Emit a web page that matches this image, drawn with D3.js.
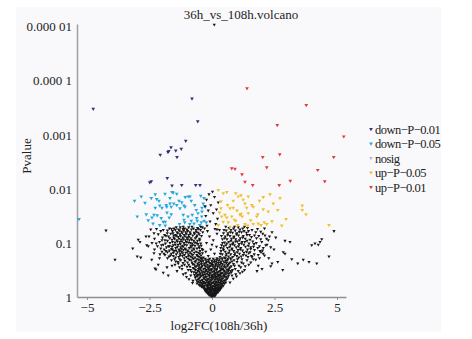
<!DOCTYPE html>
<html><head><meta charset="utf-8">
<script src="https://cdn.jsdelivr.net/npm/d3@7"></script>
<style>html,body{margin:0;padding:0;background:#fff;}svg{display:block;font-family:"Liberation Serif","Times New Roman",serif;}</style>
</head><body><svg id="c" width="472" height="339"></svg>
<script>
// ---- data: [log2FC, -log10(Pvalue)] ----
const title = "36h_vs_108h.volcano";
const xTicks = [-5, -2.5, 0, 2.5, 5];
const xTickLabels = ["\u22125", "\u22122.5", "0", "2.5", "5"];
const yTicks = [1, 0.1, 0.01, 0.001, 0.0001, 0.00001];
const yTickLabels = ["1", "0.1", "0.01", "0.001", "0.000 1", "0.000 01"];
const categories = ["down\u2212P\u22120.01", "down\u2212P\u22120.05", "nosig", "up\u2212P\u22120.05", "up\u2212P\u22120.01"];
const colors = ["#35357f", "#27a7dc", "#b8bcc8", "#efc22c", "#e23b3d"];
const pointColors = ["#35357f", "#27a7dc", "#161616", "#efc22c", "#e23b3d"];

const downP001 = [[-4.75,3.48],[-0.8,3.67],[-0.57,3.25],[-1.05,2.89],[-1.64,2.77],[-1.23,2.74],[-1.73,2.70],[-1.76,2.68],[-1.45,2.71],[-2.07,2.63],[-1.4,2.59],[-2.49,2.12],[-2.43,2.14],[-1.79,2.20],[-1.21,2.07],[-0.65,2.07],[-0.48,2.07],[-1.6,2.06]];

const downP005 = [[-5.32,1.44],[-2.83,1.86],[-2.43,1.83],[-2.27,1.90],[-1.88,1.91],[-1.6,1.94],[-1.41,1.91],[-1.07,1.85],[-0.88,1.86],[-0.45,1.87],[-0.32,1.83],
[-2.12,1.78],[-1.68,1.83],[-1.32,1.78],[-1.53,1.73],[-1.83,1.70],[-2.09,1.69],[-2.27,1.65],[-2.0,1.65],[-1.63,1.67],[-1.41,1.70],[-1.12,1.69],[-0.83,1.78],[-0.69,1.70],[-0.4,1.65],[-0.27,1.67],
[-2.99,1.49],[-2.63,1.53],[-2.32,1.52],[-2.19,1.51],[-2.4,1.47],[-1.8,1.56],[-1.63,1.53],[-1.71,1.47],[-2.03,1.46],[-1.15,1.52],[-0.96,1.49],[-0.79,1.52],[-0.63,1.61],[-0.56,1.55],[-0.4,1.58],
[-2.36,1.36],[-2.09,1.33],[-1.87,1.39],[-1.87,1.32],[-1.12,1.43],[-1.09,1.38],[-0.89,1.35],[-0.72,1.36],[-0.59,1.41],[-0.43,1.38],[-0.32,1.41],[-0.23,1.38],[-0.49,1.33],[-0.83,1.41],
[-2.68,1.74],[-1.95,1.39],[-1.08,1.67],[-0.41,1.49],[-0.35,1.73],[-2.21,1.81],[-1.55,1.93],[-0.95,1.86],[-0.61,1.46],[-1.81,1.67],[-1.68,1.73],[-1.21,1.75],[-1.28,1.64],[-3.1,1.78],[-2.55,1.42],[-1.3,1.35]];

const upP005 = [[0.25,1.98],[0.45,1.92],[0.59,1.94],[0.95,1.92],[1.05,1.86],[1.16,1.88],[1.45,1.86],[2.05,1.85],[2.32,1.90],[2.72,1.83],
[0.36,1.77],[0.85,1.78],[1.32,1.73],[1.59,1.70],[2.45,1.73],[0.36,1.64],[0.72,1.64],[0.85,1.65],[1.39,1.65],[1.65,1.67],[2.05,1.62],[2.63,1.61],[3.61,1.69],[3.61,1.61],[3.76,1.53],
[0.52,1.52],[0.59,1.47],[0.79,1.49],[1.12,1.52],[1.21,1.49],[1.16,1.54],[1.45,1.55],[1.83,1.53],[1.79,1.49],[2.96,1.44],[0.45,1.39],[0.65,1.38],[0.89,1.43],
[1.32,1.35],[1.43,1.32],[1.65,1.35],[1.85,1.36],[1.96,1.33],[2.09,1.38],[2.19,1.35],[2.79,1.32],[4.68,1.33],[1.03,1.33],[0.72,1.30],[0.25,1.33],[0.39,1.49],
[0.62,1.7],[1.0,1.6],[1.25,1.8],[1.9,1.78],[2.25,1.58],[0.3,1.56],[0.95,1.41],[1.55,1.42],[2.4,1.4]];

const upP001 = [[1.4,3.86],[3.77,3.55],[2.61,3.18],[5.27,2.97],[2.03,2.59],[2.71,2.64],[4.87,2.59],[2.19,2.40],[0.79,2.38],[0.92,2.37],[4.23,2.35],[1.2,2.27],[1.32,2.13],[1.63,2.07],[2.69,2.07],[3.13,2.15],[4.51,2.14]];

const nosig = [
[0.09,5.04],
[0.00,0.01],[-0.04,0.02],[0.05,0.02],[0.09,0.03],[-0.08,0.03],[0.02,0.04],[-0.12,0.04],[0.13,0.05],[-0.02,0.05],[0.07,0.06],[-0.16,0.06],[0.17,0.06],[-0.06,0.07],[0.11,0.07],[-0.2,0.08],[0.2,0.08],[0.03,0.08],[-0.1,0.09],[0.24,0.09],[-0.14,0.1],[0.06,0.1],[-0.24,0.1],[0.15,0.11],[-0.03,0.11],[0.27,0.11],[-0.18,0.12],[0.09,0.12],[-0.28,0.12],[0.21,0.13],[-0.07,0.13],[0.31,0.13],[-0.22,0.14],[0.01,0.14],[0.13,0.14],[-0.12,0.15],[0.25,0.15],[-0.3,0.15],[0.34,0.15],[0.04,0.15],[-0.17,0.15],
[-0.01,0.03],[0.12,0.02],[-0.09,0.05],[0.04,0.07],[-0.13,0.08],[0.16,0.09],[-0.05,0.1],[0.09,0.11],[-0.21,0.11],[0.19,0.12],[-0.11,0.13],[0.06,0.13],[0.26,0.14],[-0.26,0.14],[-0.04,0.16],[0.14,0.16],[-0.15,0.17],[0.23,0.18],[-0.31,0.18],[0.33,0.19],[0.02,0.19],[-0.06,0.2],[-0.37,0.2],[0.11,0.2],
[-0.35,0.17],[-0.26,0.16],[-0.09,0.17],[0.08,0.16],[0.18,0.17],[0.3,0.17],[0.39,0.18],[-0.42,0.19],[-0.19,0.19],[-0.01,0.18],[0.12,0.19],[0.24,0.2],[0.36,0.2],[0.45,0.21],[-0.48,0.21],[-0.31,0.21],[-0.13,0.21],[0.05,0.21],[0.17,0.22],[-0.23,0.22],
[-0.52,0.23],[-0.38,0.24],[-0.05,0.23],[0.1,0.24],[0.28,0.23],[0.42,0.24],[0.5,0.25],[-0.44,0.26],[-0.28,0.25],[-0.16,0.26],[0.0,0.26],[0.2,0.26],[0.33,0.27],[0.55,0.27],[-0.57,0.28],[-0.34,0.28],[-0.09,0.28],[0.07,0.29],[0.15,0.28],[0.4,0.29],[-0.2,0.3],[0.26,0.3],[0.48,0.3],[-0.47,0.3],[-0.11,0.24],[0.36,0.25],[-0.6,0.25],
[-0.43,0.22],[-0.18,0.23],[0.21,0.23],[0.37,0.22],[-0.02,0.25],[0.13,0.25],[-0.33,0.26],[0.28,0.26],[0.46,0.27],[-0.51,0.27],[-0.24,0.27],[0.04,0.27],[-0.13,0.29],[0.19,0.29],[0.35,0.3],[-0.39,0.3],[-0.07,0.31],[0.53,0.31],[-0.56,0.32],[-0.19,0.33],[0.16,0.33],[0.28,0.33],[0.4,0.34],[-0.33,0.35],[-0.01,0.35],[0.12,0.36],[-0.49,0.36],[0.58,0.37],[-0.25,0.37],[0.01,0.37],[0.23,0.38],[-0.11,0.39],[0.48,0.39],[-0.64,0.38],[0.33,0.4],[-0.44,0.4],
[-0.62,0.31],[-0.39,0.32],[-0.27,0.32],[-0.03,0.31],[0.11,0.32],[0.35,0.32],[0.58,0.33],[-0.53,0.34],[-0.14,0.34],[0.03,0.34],[0.22,0.34],[0.44,0.35],[0.62,0.35],[-0.67,0.36],[-0.31,0.36],[-0.08,0.36],[0.17,0.37],[0.31,0.36],[0.52,0.37],[-0.45,0.38],[-0.21,0.38],[0.06,0.38],[0.27,0.39],[0.39,0.38],[0.66,0.39],[-0.58,0.39],[-0.36,0.4],[-0.01,0.4],[0.13,0.4],[0.47,0.4],
[-0.7,0.41],[-0.49,0.42],[-0.26,0.42],[-0.12,0.41],[0.09,0.42],[0.21,0.42],[0.34,0.43],[0.56,0.42],[0.71,0.44],[-0.61,0.44],[-0.38,0.44],[-0.05,0.44],[0.15,0.45],[0.42,0.45],[0.6,0.46],[-0.73,0.46],[-0.51,0.47],[-0.29,0.46],[-0.17,0.47],[0.02,0.47],[0.27,0.47],[0.49,0.48],[0.74,0.48],[-0.42,0.49],[-0.08,0.49],[0.1,0.49],[0.36,0.5],[0.63,0.5],[-0.66,0.5],[-0.22,0.5],
[-0.57,0.41],[-0.33,0.41],[0.03,0.41],[0.28,0.41],[0.48,0.42],[-0.19,0.43],[0.12,0.43],[0.65,0.43],[-0.46,0.44],[0.37,0.44],[-0.66,0.45],[-0.1,0.45],[0.22,0.46],[0.53,0.46],[-0.35,0.47],[0.08,0.47],[-0.57,0.48],[-0.24,0.48],[0.32,0.48],[0.66,0.49],[-0.02,0.5],[0.18,0.5],[0.45,0.5],[-0.48,0.51],[-0.13,0.51],[0.59,0.51],[-0.71,0.52],[-0.28,0.53],[0.11,0.53],[0.36,0.53],[-0.52,0.55],[-0.19,0.55],[0.22,0.56],[0.49,0.56],[0.72,0.55],[-0.67,0.56],[-0.41,0.56],[0.01,0.57],[-0.11,0.57],[0.62,0.58],[-0.56,0.59],[-0.3,0.59],[0.31,0.6],[0.15,0.6],[-0.77,0.61],[-0.42,0.61],[-0.03,0.61],[0.41,0.61],[0.68,0.62],[-0.24,0.63],[0.25,0.63],[0.02,0.64],[-0.52,0.64],[0.52,0.64],[-0.68,0.65],[-0.13,0.66],[0.17,0.66],[0.36,0.66],[0.8,0.66],[-0.46,0.67],[0.56,0.67],[-0.83,0.68],[-0.24,0.68],[0.1,0.68],[-0.6,0.7],[-0.4,0.7],[0.3,0.7],[0.63,0.71],[-0.09,0.71],[-0.45,0.72],[0.2,0.72],
[-0.55,0.52],[-0.33,0.52],[-0.02,0.52],[0.19,0.52],[0.44,0.53],[0.68,0.53],[-0.76,0.54],[-0.45,0.54],[-0.13,0.54],[0.07,0.55],[0.3,0.55],[0.55,0.55],[-0.62,0.57],[-0.26,0.57],[0.13,0.57],[0.39,0.57],[0.77,0.57],[-0.38,0.58],[-0.06,0.58],[0.24,0.59],[0.5,0.59],[0.64,0.6],[-0.71,0.6],[-0.5,0.6],[-0.18,0.6],[0.04,0.6],
[-0.58,0.62],[-0.31,0.62],[-0.09,0.63],[0.16,0.62],[0.34,0.63],[0.58,0.63],[0.72,0.64],[-0.8,0.64],[-0.42,0.65],[-0.21,0.65],[0.09,0.65],[0.46,0.66],[-0.65,0.67],[-0.35,0.67],[-0.01,0.67],[0.27,0.67],[0.62,0.68],[-0.53,0.69],[-0.15,0.69],[0.19,0.69],[0.41,0.7],[0.75,0.7],[-0.74,0.71],[-0.27,0.71],[0.05,0.71],[0.53,0.72],
[-0.78,0.26],[-0.92,0.33],[-0.85,0.4],[-1.05,0.44],[-0.95,0.5],[-1.2,0.52],[-0.88,0.56],[-1.1,0.6],[-1.35,0.62],[-0.98,0.64],[-1.25,0.68],[-1.5,0.7],[-0.9,0.69],[-1.6,0.58],[-1.4,0.48],[-0.82,0.47],[-1.02,0.37],[-1.15,0.42],[-0.76,0.3],[-1.3,0.55],[-0.93,0.6],[-1.45,0.66],
[0.72,0.27],[0.85,0.34],[0.95,0.42],[0.82,0.5],[1.05,0.48],[1.15,0.55],[0.9,0.58],[1.25,0.62],[1.0,0.65],[1.4,0.68],[0.88,0.68],[1.55,0.64],[1.3,0.5],[0.98,0.38],[1.12,0.44],[0.8,0.4],[1.65,0.7],[1.2,0.7],
[0.78,0.46],[0.93,0.52],[1.08,0.58],[1.22,0.47],[0.86,0.61],[1.33,0.57],[1.47,0.6],[1.02,0.7],[1.18,0.64],[1.6,0.74],[1.75,0.69],[1.9,0.72],[2.1,0.77],[1.52,0.83],[1.83,0.91],[2.02,0.86],[1.66,0.93],[1.77,1.0],[1.99,1.02],[2.15,0.96],[1.87,1.13],[2.03,1.17],[1.7,1.14],[2.25,1.05],[2.4,1.2],[2.55,1.1],[2.35,0.92],[1.58,1.11],[1.46,1.22],[1.82,1.26],
[-0.86,0.5],[-1.0,0.56],[-1.16,0.63],[-1.3,0.7],[-1.08,0.67],[-1.48,0.6],[-1.62,0.68],[-1.78,0.72],[-1.92,0.8],[-2.05,0.9],[-2.18,0.94],[-1.98,1.1],[-2.15,1.16],[-2.3,1.08],[-2.22,1.26],[-1.95,1.24],[-1.62,1.26],[-2.4,1.0],[-2.52,1.12],[-1.88,1.05],[-2.02,0.96],[-1.84,0.85],[-1.7,0.94],[-1.58,0.88],[-1.53,1.14],[-1.79,1.18],[-2.3,0.88],[-1.2,0.58],[-1.36,0.65],[-0.95,0.71],
[-0.3,1.27],[0.3,1.24],[-0.8,1.3],[0.9,1.3],[1.3,1.3],[-1.15,1.3],[0.55,1.3],[-0.45,1.3],
[-0.35,0.73],[-0.52,0.74],[-0.68,0.73],[-0.85,0.75],[-1.02,0.74],[-1.18,0.76],[-1.33,0.74],[-1.55,0.76],[-1.72,0.75],[-0.44,0.77],[-0.61,0.78],[-0.77,0.78],[-0.94,0.79],[-1.1,0.78],[-1.27,0.8],[-1.43,0.79],[-1.63,0.8],[-1.88,0.78],[-0.38,0.81],[-0.55,0.82],[-0.71,0.82],[-0.88,0.83],[-1.05,0.82],[-1.21,0.84],[-1.38,0.83],[-1.52,0.85],[-0.48,0.85],[-0.8,0.86],[-0.97,0.86],[-1.14,0.87],[-1.32,0.88],[-1.7,0.86],[-2.0,0.84],
[-0.43,0.72],[-0.79,0.73],[-1.11,0.72],[-1.46,0.73],[-0.58,0.76],[-0.93,0.76],[-1.28,0.77],[-1.66,0.77],[-2.08,0.79],[-0.49,0.8],[-0.83,0.8],[-1.17,0.81],[-1.55,0.82],[-1.78,0.83],[-0.63,0.84],[-0.97,0.84],[-1.29,0.85],[-1.44,0.86],[-0.37,0.87],[-0.72,0.88],[-1.05,0.88],[-1.23,0.89],[-1.62,0.89],[-1.91,0.88],[-0.51,0.91],[-0.84,0.92],[-1.16,0.93],[-1.38,0.93],[-1.74,0.94],[-0.43,0.95],[-0.77,0.96],[-1.09,0.97],[-1.27,0.98],[-1.47,0.97],[-1.86,0.99],[-0.56,0.98],
[-0.4,0.89],[-0.6,0.9],[-0.74,0.9],[-0.91,0.91],[-1.08,0.9],[-1.25,0.92],[-1.45,0.91],[-1.6,0.93],[-1.82,0.92],[-0.52,0.94],[-0.68,0.95],[-0.85,0.95],[-1.01,0.96],[-1.18,0.95],[-1.36,0.97],[-1.55,0.96],[-1.95,0.97],[-0.45,0.99],[-0.63,1.0],[-0.79,0.99],[-0.95,1.01],[-1.12,1.0],[-1.29,1.02],[-1.48,1.01],[-1.68,1.0],[-0.58,1.04],[-0.73,1.04],[-0.9,1.05],[-1.06,1.05],[-1.24,1.06],[-1.41,1.05],[-1.6,1.06],[-1.78,1.04],[-2.1,1.02],
[-0.69,1.01],[-0.87,1.0],[-1.03,1.02],[-1.2,1.03],[-1.39,1.03],[-1.58,1.02],[-2.0,1.05],[-0.49,1.05],[-0.81,1.06],[-0.98,1.07],[-1.15,1.07],[-1.32,1.08],[-1.5,1.08],[-1.69,1.09],[-0.62,1.11],[-0.92,1.11],[-1.08,1.12],[-1.26,1.13],[-1.43,1.13],[-1.84,1.13],[-0.51,1.16],[-0.7,1.17],[-0.86,1.17],[-1.03,1.17],[-1.19,1.18],[-1.37,1.18],[-1.56,1.18],[-0.37,1.2],[-0.63,1.21],[-0.97,1.22],[-1.13,1.23],[-1.3,1.23],[-1.47,1.24],[-1.78,1.23],[-0.55,1.26],[-0.74,1.27],[-1.09,1.27],[-1.43,1.29],[-0.39,1.29],
[-0.5,1.08],[-0.67,1.09],[-0.84,1.09],[-1.0,1.1],[-1.17,1.1],[-1.35,1.11],[-1.53,1.1],[-1.74,1.12],[-0.42,1.13],[-0.6,1.14],[-0.77,1.14],[-0.93,1.15],[-1.11,1.15],[-1.28,1.16],[-1.46,1.15],[-1.65,1.17],[-1.9,1.15],[-0.55,1.19],[-0.71,1.19],[-0.88,1.2],[-1.05,1.2],[-1.22,1.21],[-1.4,1.2],[-1.58,1.22],[-0.46,1.24],[-0.64,1.24],[-0.82,1.25],[-1.0,1.25],[-1.16,1.26],[-1.34,1.25],[-1.52,1.27],[-0.58,1.28],[-0.93,1.29],[-1.27,1.29],[-1.7,1.27],[-2.05,1.22],
[0.32,0.74],[0.5,0.73],[0.66,0.75],[0.83,0.74],[0.99,0.76],[1.17,0.75],[1.36,0.77],[1.58,0.76],[1.85,0.78],[0.41,0.79],[0.58,0.8],[0.75,0.79],[0.92,0.81],[1.1,0.8],[1.28,0.82],[1.47,0.81],[2.05,0.8],[0.36,0.85],[0.53,0.84],[0.7,0.86],[0.87,0.85],[1.04,0.87],[1.22,0.86],[1.42,0.88],[1.7,0.87],
[0.41,0.72],[0.74,0.72],[1.07,0.73],[1.44,0.74],[0.56,0.77],[0.9,0.78],[1.25,0.78],[1.69,0.79],[0.33,0.8],[0.67,0.82],[1.01,0.83],[1.38,0.84],[1.92,0.85],[0.46,0.87],[0.8,0.88],[1.13,0.88],[1.55,0.89],[0.35,0.91],[0.71,0.93],[1.06,0.94],[1.45,0.95],[0.47,0.94],[0.83,0.98],[1.18,0.99],[1.68,0.98],[0.42,1.0],[0.59,0.99],[0.95,1.03],[1.31,1.02],[0.76,1.04],[1.1,1.05],[1.52,1.06],[0.51,1.09],[0.87,1.1],[1.23,1.1],[1.95,1.07],[0.38,1.13],[0.63,1.15],[0.98,1.16],[1.4,1.15],[0.73,1.2],[1.09,1.21],[1.28,1.22],[0.48,1.24],[0.86,1.27],[1.23,1.27],[1.75,1.2],
[0.45,0.9],[0.62,0.91],[0.8,0.9],[0.97,0.92],[1.15,0.91],[1.34,0.93],[1.55,0.92],[1.9,0.94],[0.38,0.96],[0.56,0.96],[0.74,0.97],[0.9,0.96],[1.08,0.98],[1.27,0.97],[1.48,0.99],[2.2,0.97],[0.5,1.01],[0.67,1.02],[0.85,1.01],[1.02,1.03],[1.2,1.02],[1.4,1.04],[1.63,1.03],[0.42,1.07],[0.6,1.07],[0.78,1.08],[0.95,1.07],[1.13,1.09],[1.33,1.08],[1.78,1.09],
[0.53,1.12],[0.72,1.13],[0.88,1.12],[1.06,1.14],[1.25,1.13],[1.5,1.15],[2.3,1.12],[0.46,1.18],[0.64,1.18],[0.82,1.19],[1.0,1.18],[1.18,1.2],[1.38,1.19],[1.95,1.21],[0.57,1.23],[0.76,1.24],[0.93,1.23],[1.12,1.25],[1.6,1.24],[0.68,1.28],[1.05,1.29],[1.42,1.28],[2.1,1.27],
[-0.15,0.76],[0.1,0.8],[-0.05,0.88],[0.18,0.93],[-0.22,1.0],[0.05,1.05],[-0.1,1.12],[0.2,1.17],[-0.18,1.22],[0.12,1.26],[0.0,0.97],[-0.25,0.84],
[-0.2,1.32],[0.15,1.35],[-0.08,1.4],[0.22,1.45],[-0.25,1.5],[0.05,1.55],[-0.15,1.6],[0.18,1.62],[-0.05,1.7],[0.25,1.75],[-0.22,1.8],[0.1,1.85],[-0.12,1.9],[0.02,1.95],[0.2,1.25],[-0.28,1.68],
[-4.24,1.23],[-3.88,0.69],[-3.17,0.9],[-2.95,1.06],[-2.88,1.02],[-2.99,0.75],[-2.85,0.73],[-2.64,1.12],[-2.61,0.96],[-2.55,0.94],[-2.28,0.53],[-2.24,0.51],[-2.41,0.69],[-2.32,0.81],[-2.32,1.18],[-2.23,0.99],[-2.45,1.25],[-2.15,0.6],[-1.95,0.45],[-1.8,0.55],[-2.1,0.72],[-1.75,0.4],
[4.88,1.22],[4.68,0.75],[4.39,1.07],[4.32,1.02],[4.25,0.97],[4.12,0.99],[3.99,0.96],[4.19,0.62],[3.88,0.65],[3.65,0.69],[3.43,0.62],[3.19,0.7],[2.92,0.8],[2.85,0.83],[3.12,1.02],[2.92,1.04],[2.83,0.5],[2.63,0.65],[2.4,0.62],[2.35,0.57],[2.18,1.08],[2.12,1.14],[2.05,0.91],[1.96,0.83],[1.85,0.58],[2.27,0.72],[2.48,0.88],[1.8,0.48],[2.0,0.52]
];

const seriesList = [downP001, downP005, nosig, upP005, upP001];

// ---- drawing ----
const svg = d3.select("#c");
svg.append("rect").attr("x", 16).attr("y", 7).attr("width", 425).attr("height", 325).attr("fill", "#f9f9fb");

const x = d3.scaleLinear().domain([-5.4, 5.36]).range([77, 346]);
const y = d3.scaleLog().domain([1, 8.9e-6]).range([297, 24]);
const pv = lp => Math.pow(10, -lp);

const xAxis = d3.axisBottom(x).tickValues(xTicks).tickSize(3).tickSizeOuter(0)
  .tickFormat((d, i) => xTickLabels[i]);
const gx = svg.append("g").attr("transform", "translate(0,297)").call(xAxis);
gx.select(".domain").attr("stroke", "#8f8f8f").attr("stroke-width", 1.5);
gx.selectAll(".tick line").attr("stroke", "#8f8f8f");
gx.selectAll("text").attr("font-family", "Liberation Serif, serif").attr("font-size", 13).attr("fill", "#222").attr("dy", "0.71em");

const yAxis = d3.axisLeft(y).tickValues(yTicks).tickSize(0).tickSizeOuter(0)
  .tickFormat((d, i) => yTickLabels[i]);
const gy = svg.append("g").attr("transform", "translate(77,0)").call(yAxis);
gy.select(".domain").attr("stroke", "#a0a0a0").attr("stroke-width", 1.5);
gy.selectAll("text").attr("font-family", "Liberation Serif, serif").attr("font-size", 13).attr("fill", "#222").attr("x", -5);

const tri = d3.symbol().type(d3.symbolTriangle);
seriesList.forEach((s, k) => {
  const size = k === 2 ? 4.5 : 6;
  svg.append("g").selectAll("path").data(s).join("path")
    .attr("d", tri.size(size)())
    .attr("transform", d => `translate(${x(d[0])},${y(pv(d[1]))}) rotate(180)`)
    .attr("fill", pointColors[k]);
});

svg.append("text").attr("x", 241).attr("y", 19).attr("text-anchor", "middle")
  .attr("font-size", 13).attr("fill", "#222").text(title);
svg.append("text").attr("x", 219).attr("y", 330).attr("text-anchor", "middle")
  .attr("font-size", 13).attr("fill", "#222").text("log2FC(108h/36h)");
svg.append("text").attr("transform", "translate(31,156) rotate(-90)").attr("text-anchor", "middle")
  .attr("font-size", 13).attr("fill", "#222").text("Pvalue");

const lg = svg.append("g");
categories.forEach((c, i) => {
  const yy = 129 + i * 14.5;
  lg.append("path").attr("d", tri.size(6)()).attr("transform", `translate(371,${yy}) rotate(180)`).attr("fill", colors[i]);
  lg.append("text").attr("x", 375).attr("y", yy + 4.5).attr("font-size", 12.5).attr("letter-spacing", "-0.5").attr("fill", "#222").text(c);
});
</script></body></html>
